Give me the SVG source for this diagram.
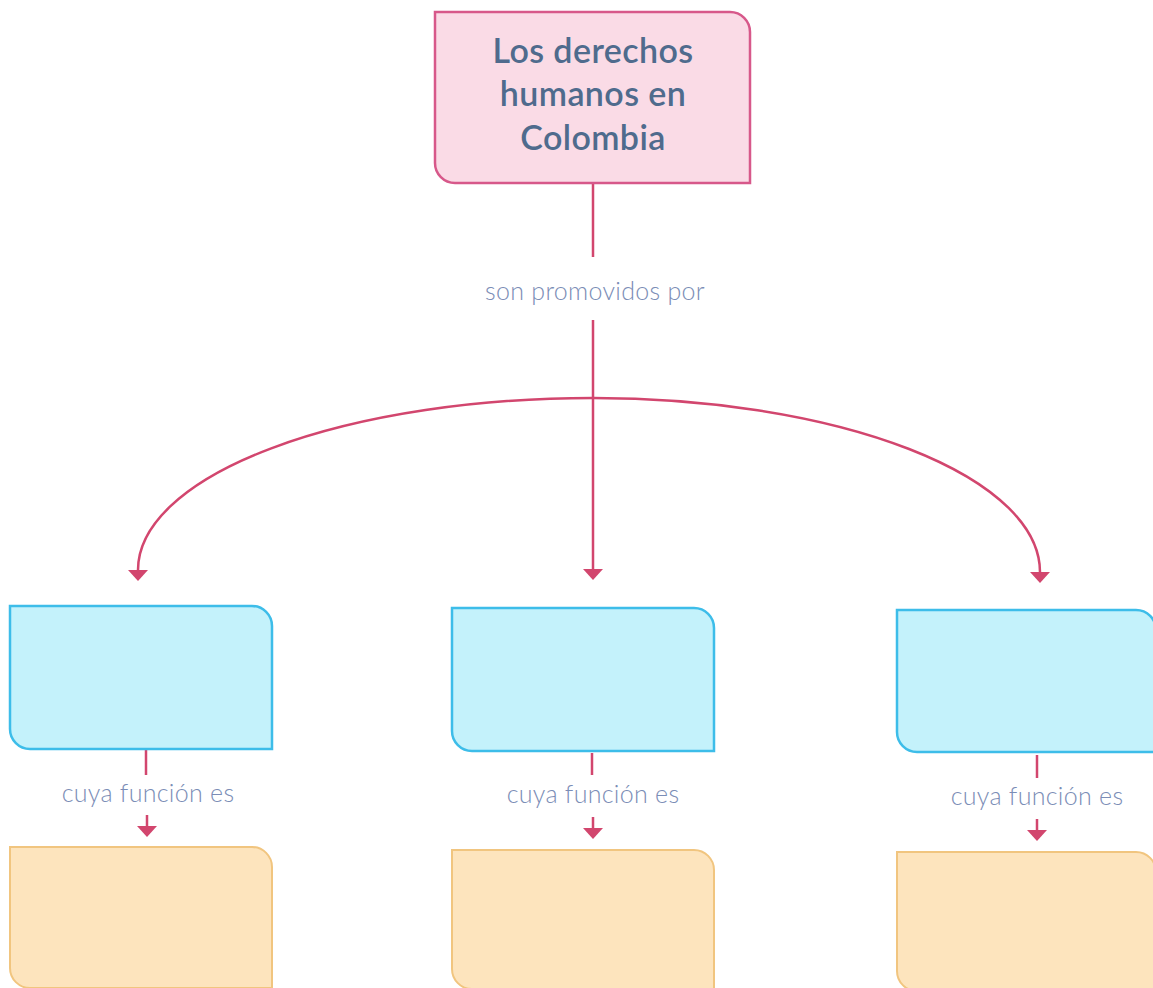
<svg xmlns="http://www.w3.org/2000/svg" width="1153" height="988" viewBox="0 0 1153 988">
<defs>
<style>
.title{font-family:"Lato","Liberation Sans",sans-serif;font-weight:600;font-size:34px;letter-spacing:0.4px;fill:#4f6b8d;text-anchor:middle;}
.lbl{font-family:"Lato","Liberation Sans",sans-serif;font-weight:300;font-size:25px;letter-spacing:0.3px;fill:#7b8db6;text-anchor:middle;}
.con{fill:none;stroke:#d2466e;stroke-width:2.5;}
.pink{fill:#fadbe6;stroke:#d7588a;stroke-width:2.5;}
.blue{fill:#c4f2fb;stroke:#3dbde9;stroke-width:2.5;}
.orange{fill:#fde4bd;stroke:#f1c57f;stroke-width:2;}
</style>
<marker id="arr" viewBox="0 -10 11 20" refX="0" refY="0" markerWidth="11" markerHeight="20" markerUnits="userSpaceOnUse" orient="auto">
<path d="M0,-10 L11,0 L0,10 Z" fill="#d2466e"/>
</marker>
</defs>
<rect width="1153" height="988" fill="#ffffff"/>
<g id="connectors">
<line class="con" x1="593" y1="183" x2="593" y2="257"/>
<line class="con" x1="593" y1="320" x2="593" y2="569" marker-end="url(#arr)"/>
<path class="con" d="M593,398 A455,172 0 0 0 138,570" marker-end="url(#arr)"/>
<path class="con" d="M593,398 A447,174 0 0 1 1040,572" marker-end="url(#arr)"/>
<line class="con" x1="146" y1="750" x2="146" y2="775"/>
<line class="con" x1="147" y1="815" x2="147" y2="826" marker-end="url(#arr)"/>
<line class="con" x1="592" y1="753" x2="592" y2="775"/>
<line class="con" x1="593" y1="817" x2="593" y2="828" marker-end="url(#arr)"/>
<line class="con" x1="1037" y1="755" x2="1037" y2="778"/>
<line class="con" x1="1037" y1="819" x2="1037" y2="830" marker-end="url(#arr)"/>
<text class="lbl" x="595" y="300">son promovidos por</text>
<text class="lbl" x="148" y="802">cuya función es</text>
<text class="lbl" x="593" y="803">cuya función es</text>
<text class="lbl" x="1037" y="805">cuya función es</text>
</g>
<g id="n-title">
<path class="pink" d="M435,12 H730 A20,20 0 0 1 750,32 V183 H455 A20,20 0 0 1 435,163 Z"/>
<text class="title" x="593" y="63">Los derechos</text>
<text class="title" x="593" y="106">humanos en</text>
<text class="title" x="593" y="150">Colombia</text>
</g>
<g id="n-blue1"><path class="blue" d="M10,606 H252 A20,20 0 0 1 272,626 V749 H30 A20,20 0 0 1 10,729 Z"/></g>
<g id="n-blue2"><path class="blue" d="M452,608 H694 A20,20 0 0 1 714,628 V751 H472 A20,20 0 0 1 452,731 Z"/></g>
<g id="n-blue3"><path class="blue" d="M897,610 H1136 A20,20 0 0 1 1156,630 V752 H917 A20,20 0 0 1 897,732 Z"/></g>
<g id="n-orange1"><path class="orange" d="M10,847 H252 A20,20 0 0 1 272,867 V988 H30 A20,20 0 0 1 10,968 Z"/></g>
<g id="n-orange2"><path class="orange" d="M452,850 H694 A20,20 0 0 1 714,870 V989 H472 A20,20 0 0 1 452,969 Z"/></g>
<g id="n-orange3"><path class="orange" d="M897,852 H1136 A20,20 0 0 1 1156,872 V991 H917 A20,20 0 0 1 897,971 Z"/></g>
</svg>
